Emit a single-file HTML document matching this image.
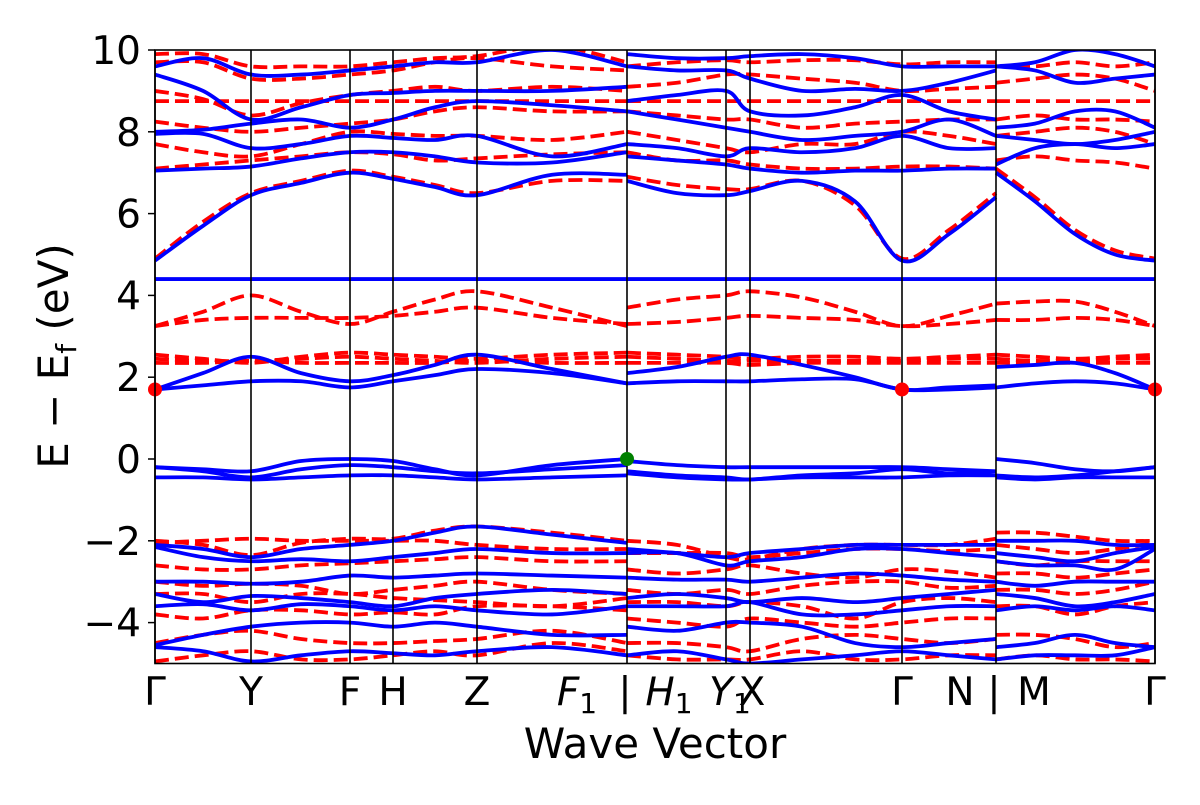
<!DOCTYPE html>
<html><head><meta charset="utf-8"><style>
body{margin:0;background:#fff;width:1200px;height:800px;overflow:hidden}
text{font-family:"DejaVu Sans","Liberation Sans",sans-serif;fill:#000}
</style></head><body>
<svg id="chart" width="1200" height="800" xmlns="http://www.w3.org/2000/svg">
<defs><clipPath id="clip"><rect x="155" y="50" width="1000" height="613.5"/></clipPath></defs>
<rect x="0" y="0" width="1200" height="800" fill="#fff"/>
<g id="bands" clip-path="url(#clip)"></g>
<g id="axes"></g>
</svg>
<script>
// ---- data ----
const yTicks=[10,8,6,4,2,0,-2,-4];
const yTickLabels=["10","8","6","4","2","0","\u22122","\u22124"];
const kLines=[0,96,195,238,322,472,571,595,747,841,1000];
const kLabelPos=[0,96,195,238,322,472,571,595,747,841,1000];
const kLabels=["Γ","Y","F","H","Z","F1|H1","Y1X","","Γ","N | M","Γ"];
const flatBand=4.4;
const kA=[0,48,96,146,195,238,280,322,397,472];
const kB=[472,522,571,595,647,700,747,794,841];
const kC=[841,880,920,960,1000];
const blueA=[
[4.85,5.7,6.45,6.75,7.0,6.85,6.65,6.45,6.95,6.95],
[7.05,7.1,7.15,7.35,7.5,7.5,7.4,7.25,7.25,7.5],
[7.95,7.95,7.6,7.7,7.9,7.85,7.8,7.9,7.4,7.7],
[8.0,8.05,8.2,8.3,8.1,8.3,8.6,8.75,8.65,8.5],
[9.4,9.0,8.3,8.6,8.9,8.95,9.0,9.0,9.0,9.1],
[9.6,9.8,9.4,9.4,9.5,9.6,9.7,9.7,10,9.6],
[-0.2,-0.25,-0.3,-0.05,0.0,-0.05,-0.25,-0.4,-0.15,0.0],
[-0.2,-0.3,-0.45,-0.25,-0.15,-0.2,-0.3,-0.35,-0.25,-0.15],
[-0.45,-0.45,-0.5,-0.45,-0.4,-0.4,-0.45,-0.5,-0.45,-0.4],
[1.7,2.1,2.5,2.1,1.9,2.05,2.3,2.55,2.2,1.85],
[1.7,1.8,1.9,1.9,1.75,1.9,2.05,2.2,2.1,1.85],
[-2.1,-2.2,-2.4,-2.2,-2.1,-2.0,-1.8,-1.65,-1.85,-2.05],
[-2.15,-2.4,-2.5,-2.45,-2.5,-2.4,-2.3,-2.2,-2.3,-2.3],
[-3.0,-3.0,-3.05,-3.0,-2.85,-2.9,-2.85,-2.8,-2.85,-2.9],
[-3.3,-3.5,-3.35,-3.4,-3.5,-3.6,-3.4,-3.3,-3.2,-3.3],
[-3.6,-3.55,-3.7,-3.55,-3.6,-3.7,-3.6,-3.7,-3.8,-3.6],
[-4.55,-4.3,-4.1,-4.0,-4.0,-4.1,-4.0,-4.1,-4.3,-4.3],
[-4.6,-4.7,-4.95,-4.8,-4.7,-4.75,-4.8,-4.7,-4.6,-4.8]];
const redA=[
[4.9,5.8,6.5,6.8,7.05,6.9,6.7,6.5,6.8,6.8],
[7.1,7.2,7.3,7.4,7.5,7.45,7.3,7.35,7.45,7.5],
[7.7,7.5,7.4,7.7,8.0,7.95,7.9,7.9,7.8,8.0],
[8.25,8.1,8.0,8.1,8.2,8.3,8.5,8.6,8.5,8.5],
[8.75,8.75,8.75,8.75,8.75,8.75,8.75,8.75,8.75,8.75],
[9.0,8.8,8.4,8.7,8.9,9.0,9.1,9.0,9.1,9.0],
[9.7,9.7,9.3,9.3,9.4,9.5,9.7,9.8,9.6,9.5],
[9.9,9.9,9.6,9.6,9.6,9.7,9.8,9.85,10.1,9.7],
[3.25,3.6,4.0,3.6,3.3,3.6,3.9,4.1,3.7,3.25],
[3.25,3.4,3.45,3.45,3.45,3.5,3.6,3.7,3.45,3.3],
[2.55,2.45,2.35,2.5,2.6,2.55,2.5,2.45,2.55,2.6],
[2.45,2.4,2.4,2.45,2.5,2.45,2.4,2.35,2.45,2.5],
[2.35,2.35,2.4,2.35,2.35,2.35,2.35,2.4,2.35,2.35],
[-2.0,-2.1,-2.35,-2.05,-1.95,-1.95,-1.75,-1.65,-1.8,-2.0],
[-2.05,-2.0,-1.95,-2.0,-2.0,-2.0,-2.0,-2.1,-2.2,-2.2],
[-2.6,-2.7,-2.7,-2.6,-2.55,-2.5,-2.45,-2.4,-2.5,-2.5],
[-3.0,-3.1,-3.05,-3.1,-3.3,-3.2,-3.1,-3.0,-3.2,-3.3],
[-3.3,-3.3,-3.5,-3.3,-3.3,-3.4,-3.45,-3.5,-3.6,-3.4],
[-3.8,-3.9,-3.7,-3.7,-3.8,-3.75,-3.8,-3.6,-3.6,-3.7],
[-4.5,-4.3,-4.2,-4.4,-4.5,-4.5,-4.45,-4.4,-4.2,-4.5],
[-4.95,-4.8,-4.7,-4.9,-4.9,-4.8,-4.7,-4.8,-4.5,-4.7]];
const blueB=[
[6.8,6.5,6.45,6.55,6.8,6.3,4.85,5.5,6.4],
[7.4,7.3,7.2,7.1,7.0,7.05,7.05,7.1,7.1],
[7.7,7.6,7.4,7.6,7.5,7.6,7.9,7.6,7.6],
[8.5,8.3,8.1,8.0,7.8,7.9,8.0,8.3,7.9],
[8.75,8.9,9.0,8.5,8.4,8.6,8.9,8.5,8.3],
[9.6,9.5,9.5,9.3,9.0,9.05,9.0,9.2,9.5],
[9.9,9.8,9.8,9.85,9.9,9.8,9.6,9.6,9.6],
[2.1,2.25,2.5,2.55,2.3,2.0,1.7,1.75,1.8],
[1.85,1.9,1.9,1.9,1.95,1.95,1.7,1.7,1.75],
[-0.05,-0.15,-0.2,-0.2,-0.2,-0.2,-0.2,-0.25,-0.3],
[-0.3,-0.4,-0.45,-0.5,-0.4,-0.35,-0.25,-0.35,-0.3],
[-0.35,-0.45,-0.5,-0.5,-0.45,-0.45,-0.45,-0.4,-0.4],
[-2.2,-2.3,-2.4,-2.3,-2.2,-2.1,-2.1,-2.1,-2.1],
[-2.3,-2.3,-2.6,-2.5,-2.4,-2.2,-2.2,-2.3,-2.4],
[-2.9,-2.95,-2.95,-3.0,-2.9,-2.8,-2.85,-2.95,-3.0],
[-3.4,-3.3,-3.4,-3.5,-3.4,-3.5,-3.4,-3.3,-3.2],
[-3.6,-3.6,-3.6,-3.5,-3.8,-3.8,-3.7,-3.6,-3.6],
[-4.1,-4.2,-4.0,-4.0,-4.1,-4.5,-4.6,-4.5,-4.4],
[-4.8,-4.7,-4.9,-5.0,-4.9,-4.8,-4.7,-4.8,-4.9]];
const redB=[
[6.9,6.7,6.6,6.6,6.8,6.2,4.9,5.6,6.5],
[7.5,7.3,7.3,7.2,7.1,7.1,7.15,7.15,7.1],
[8.0,7.8,7.6,7.5,7.7,7.7,8.0,7.9,7.7],
[8.5,8.4,8.3,8.3,8.1,8.2,8.25,8.3,8.3],
[8.75,8.75,8.75,8.75,8.75,8.75,8.75,8.75,8.75],
[9.1,9.2,9.4,9.4,9.3,9.2,9.0,9.05,9.1],
[9.6,9.7,9.75,9.7,9.75,9.75,9.65,9.7,9.7],
[3.7,3.9,4.0,4.1,3.95,3.6,3.25,3.5,3.8],
[3.3,3.35,3.45,3.5,3.45,3.4,3.25,3.3,3.4],
[2.6,2.55,2.5,2.45,2.5,2.5,2.45,2.5,2.55],
[2.5,2.45,2.4,2.4,2.4,2.4,2.4,2.45,2.45],
[2.35,2.35,2.35,2.3,2.35,2.35,2.35,2.35,2.35],
[-2.0,-2.1,-2.4,-2.45,-2.2,-2.1,-2.1,-2.1,-1.95],
[-2.3,-2.3,-2.3,-2.4,-2.3,-2.2,-2.2,-2.25,-2.2],
[-2.7,-2.8,-2.7,-2.6,-2.8,-2.9,-2.7,-2.75,-2.9],
[-3.2,-3.3,-3.2,-3.3,-3.1,-3.0,-3.0,-3.15,-3.1],
[-3.5,-3.5,-3.6,-3.5,-3.6,-3.9,-3.5,-3.4,-3.5],
[-3.9,-4.0,-4.1,-3.9,-4.0,-4.1,-4.0,-3.9,-3.9],
[-4.5,-4.5,-4.6,-4.7,-4.4,-4.3,-4.4,-4.5,-4.4],
[-4.8,-4.9,-4.9,-4.9,-4.7,-4.9,-4.9,-4.8,-4.8]];
const blueC=[
[7.0,6.3,5.5,5.0,4.85],[7.2,7.6,7.7,7.6,7.7],[7.9,7.8,7.7,7.8,8.0],[8.1,8.2,8.5,8.5,8.1],
[9.6,9.5,9.2,9.3,9.4],[9.6,9.7,10,9.9,9.6],[2.25,2.3,2.35,2.1,1.7],[1.75,1.85,1.9,1.85,1.7],
[0.0,-0.1,-0.25,-0.3,-0.2],[-0.4,-0.45,-0.4,-0.3,-0.2],[-0.45,-0.5,-0.45,-0.45,-0.45],
[-2.0,-2.0,-2.0,-2.1,-2.1],[-2.3,-2.4,-2.5,-2.3,-2.15],[-2.5,-2.6,-2.6,-2.7,-2.2],
[-3.0,-3.1,-3.0,-3.0,-3.0],[-3.3,-3.4,-3.6,-3.5,-3.3],[-3.7,-3.6,-3.7,-3.6,-3.7],
[-4.6,-4.5,-4.3,-4.5,-4.6],[-4.9,-4.8,-4.8,-4.8,-4.6]];
const redC=[
[7.1,6.4,5.6,5.1,4.9],[7.3,7.4,7.3,7.25,7.1],[7.9,8.0,8.1,8.0,7.7],[8.3,8.4,8.3,8.3,8.25],
[8.75,8.75,8.75,8.75,8.75],[9.2,9.3,9.4,9.3,9.0],[9.6,9.6,9.7,9.6,9.7],
[3.8,3.85,3.85,3.6,3.25],[3.4,3.4,3.45,3.4,3.25],[2.55,2.5,2.45,2.5,2.55],
[2.45,2.4,2.4,2.45,2.45],[2.35,2.35,2.35,2.35,2.35],[-1.8,-1.8,-1.9,-2.0,-2.0],
[-2.1,-2.2,-2.3,-2.2,-2.05],[-2.5,-2.6,-2.5,-2.5,-2.5],[-2.8,-2.8,-2.9,-2.8,-2.7],
[-3.2,-3.2,-3.3,-3.2,-3.0],[-3.6,-3.6,-3.8,-3.6,-3.5],[-4.3,-4.3,-4.4,-4.6,-4.5],
[-4.9,-4.8,-4.9,-4.9,-4.95]];
const redPointsK=[0,747,1000];
const redPointsE=[1.7,1.7,1.7];
const greenPointK=[472];
const greenPointE=[0];

// ---- axes ----
const X0=155,X1=1155,Y0=50,Y1=663.5,KMAX=1000,EMIN=-5,EMAX=10;
const xs=k=>X0+(k/KMAX)*(X1-X0);
const ys=e=>Y0+(EMAX-e)/(EMAX-EMIN)*(Y1-Y0);
const NS="http://www.w3.org/2000/svg";
function mk(tag,attrs,parent){const el=document.createElementNS(NS,tag);for(const a in attrs)el.setAttribute(a,attrs[a]);parent.appendChild(el);return el;}
function spline(ks,es){
  const p=ks.map((k,i)=>[xs(k),ys(es[i])]);
  let d=`M${p[0][0]},${p[0][1]}`;
  for(let i=0;i<p.length-1;i++){
    const p0=p[Math.max(0,i-1)],p1=p[i],p2=p[i+1],p3=p[Math.min(p.length-1,i+2)];
    const c1=[p1[0]+(p2[0]-p0[0])/6,p1[1]+(p2[1]-p0[1])/6];
    const c2=[p2[0]-(p3[0]-p1[0])/6,p2[1]-(p3[1]-p1[1])/6];
    d+=` C${c1[0]},${c1[1]} ${c2[0]},${c2[1]} ${p2[0]},${p2[1]}`;
  }
  return d;
}
const bands=document.getElementById('bands');
const axes=document.getElementById('axes');
function drawSet(ks,set,color,dashed,name){
  set.forEach((es,i)=>{
    const el=mk('path',{d:spline(ks,es),fill:'none',stroke:color,'stroke-width':3.8,'stroke-dasharray':dashed?'14,6':'none'},bands);
    
    
  });
}
drawSet(kA,redA,'#ff0000',true,'band-up-a');
drawSet(kB,redB,'#ff0000',true,'band-up-b');
drawSet(kC,redC,'#ff0000',true,'band-up-c');
drawSet(kA,blueA,'#0000ff',false,'band-down-a');
drawSet(kB,blueB,'#0000ff',false,'band-down-b');
drawSet(kC,blueC,'#0000ff',false,'band-down-c');
const fb=mk('line',{x1:xs(0),x2:xs(KMAX),y1:ys(flatBand),y2:ys(flatBand),stroke:'#0000ff','stroke-width':3.8},bands);


kLines.forEach((k,i)=>{
  const l=mk('line',{x1:xs(k),x2:xs(k),y1:Y0,y2:Y1,stroke:'#000','stroke-width':1.6},axes);
  
  
});
redPointsK.forEach((k,i)=>{
  const c=mk('circle',{cx:xs(k),cy:ys(redPointsE[i]),r:7,fill:'#ff0000'},axes);
  
  
});
greenPointK.forEach((k,i)=>{
  const c=mk('circle',{cx:xs(k),cy:ys(greenPointE[i]),r:7,fill:'#008000'},axes);
  
  
});
const fr=mk('rect',{x:X0,y:Y0,width:X1-X0,height:Y1-Y0,fill:'none',stroke:'#000','stroke-width':1.6},axes);


yTicks.forEach((v,i)=>{
  mk('line',{x1:X0-7,x2:X0,y1:ys(v),y2:ys(v),stroke:'#000','stroke-width':1.5},axes);
  const t=mk('text',{x:X0-14,y:ys(v)+14,'text-anchor':'end','font-size':39},axes);
  t.textContent=yTickLabels[i];
  
  
});
function lbl(x,html,name){
  const t=mk('text',{x:x,y:705,'text-anchor':'middle','font-size':39},axes);
  t.innerHTML=html;
  
  
}
kLabels.forEach((s,i)=>{
  if(!s)return;
  const x=xs(kLabelPos[i]);
  if(i===5){
    lbl(x-50,'<tspan font-style="italic">F</tspan><tspan font-size="28" dy="8">1</tspan>','x-tick-label-f1');
    lbl(x-2,'|','x-tick-label-sep');
    lbl(x+42,'<tspan font-style="italic">H</tspan><tspan font-size="28" dy="8">1</tspan>','x-tick-label-h1');
  } else if(i===6){
    lbl(x+4,'<tspan font-style="italic">Y</tspan><tspan font-size="28" dy="8">1</tspan>','x-tick-label-y1');
    lbl(xs(kLabelPos[7])+2,'X','x-tick-label-x');
  } else if(i===9){
    lbl(x-36,'N','x-tick-label-n');
    lbl(x-2,'|','x-tick-label-sep2');
    lbl(x+38,'M','x-tick-label-m');
  } else lbl(x,s,'x-tick-label');
});
const xt=mk('text',{x:655,y:758,'text-anchor':'middle','font-size':42},axes);
xt.textContent='Wave Vector';


const yt=mk('text',{x:0,y:0,'text-anchor':'middle','font-size':42,transform:'translate(68,356) rotate(-90)'},axes);
yt.innerHTML='E \u2212 E<tspan font-size="28" dy="8">f</tspan><tspan dy="-8"> (eV)</tspan>';


</script>
</body></html>
